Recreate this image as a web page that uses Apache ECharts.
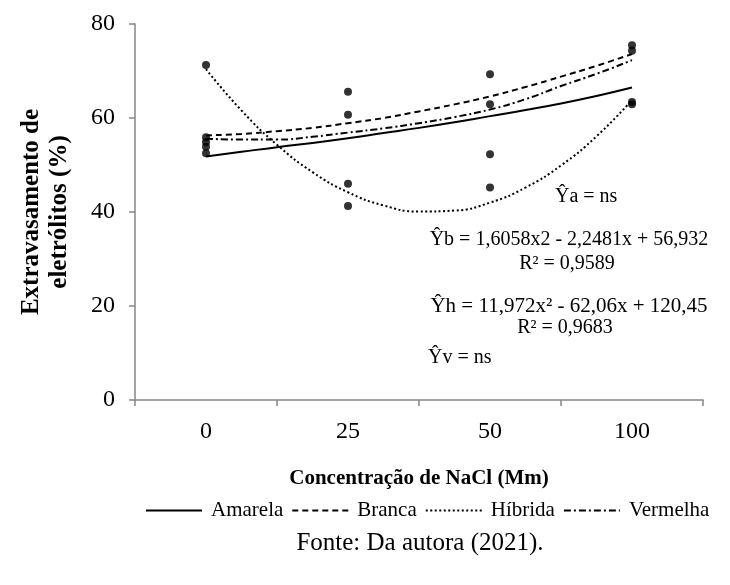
<!DOCTYPE html>
<html><head><meta charset="utf-8">
<script src="https://cdn.jsdelivr.net/npm/echarts@6/dist/echarts.min.js"></script>
<style>html,body{margin:0;padding:0;background:#fff}#c{width:730px;height:585px}</style>
</head><body><div id="c"></div>
<script>
const categories = ['0', '25', '50', '100'];
const yTicks = [0, 20, 40, 60, 80];
// observed points per category
const obs0 = [71.3, 55.9, 54.9, 53.9, 52.5];
const obs25 = [65.6, 60.7, 46.0, 41.3];
const obs50 = [69.3, 62.9, 52.3, 45.2];
const obs100 = [75.5, 74.3, 63.4, 62.9];
// trend line readings at category positions (0 = first category, 3 = last)
const trendPos = [0, 0.25, 0.5, 0.75, 1, 1.25, 1.5, 1.75, 2, 2.25, 2.5, 2.75, 3];
const amarela = [51.8, 52.8, 53.8, 54.7, 55.7, 56.8, 57.9, 59.1, 60.4, 61.7, 63.1, 64.7, 66.5];
const branca = [56.3, 56.6, 57.2, 57.9, 58.9, 60.0, 61.4, 62.9, 64.6, 66.6, 68.8, 71.1, 73.6];
const hibrida = [70.4, 61.6, 54.3, 48.5, 44.2, 41.4, 40.1, 40.3, 42.0, 45.2, 49.9, 56.1, 63.8];
const vermelha = [55.6, 55.4, 55.4, 56.0, 56.9, 57.8, 58.9, 60.2, 61.8, 64.0, 66.8, 69.4, 72.3];
const seriesNames = ['Amarela', 'Branca', 'Híbrida', 'Vermelha'];
const annotations = [
  'Ŷa = ns',
  'Ŷb = 1,6058x2 - 2,2481x + 56,932',
  'R² = 0,9589',
  'Ŷh = 11,972x² - 62,06x + 120,45',
  'R² = 0,9683',
  'Ŷv = ns'
];
const footer = 'Fonte: Da autora (2021).';

const serif = '"Liberation Serif", "Times New Roman", serif';
const obsAll = [obs0, obs25, obs50, obs100];
const scatterData = [];
obsAll.forEach((arr, i) => arr.forEach(v => scatterData.push([categories[i], v])));
const pair = arr => arr.map((v, i) => [trendPos[i], v]);
const styles = [
  {type: 'solid', width: 2},
  {type: [6, 4], width: 2},
  {type: [2, 2.5], width: 2},
  {type: [7, 3, 2, 3], width: 2}
];
const lines = [amarela, branca, hibrida, vermelha];

function txt(s, x, y, align, size) {
  return {type: 'text', x: x, y: y, z: 10,
    style: {text: s, font: size + 'px ' + serif, fill: '#000', align: align, verticalAlign: 'middle'}};
}

const chart = echarts.init(document.getElementById('c'));
chart.setOption({
  animation: false,
  backgroundColor: '#fff',
  grid: {left: 135, right: 27, top: 24, bottom: 185},
  xAxis: [{
    type: 'category', data: categories, boundaryGap: true,
    axisLine: {onZero: false, lineStyle: {color: '#868686', width: 1.5}},
    axisTick: {show: true, length: 6, lineStyle: {color: '#868686', width: 1.5}},
    axisLabel: {color: '#000', fontFamily: serif, fontSize: 24, margin: 20},
    name: 'Concentração de NaCl (Mm)', nameLocation: 'middle', nameGap: 68,
    nameTextStyle: {color: '#000', fontFamily: serif, fontSize: 21, fontWeight: 'bold'}
  }, {
    type: 'value', min: -0.5, max: 3.5, show: false
  }],
  yAxis: {
    type: 'value', min: 0, max: 80, interval: 20,
    axisLine: {show: true, onZero: false, lineStyle: {color: '#868686', width: 1.5}},
    axisTick: {show: true, length: 6, lineStyle: {color: '#868686', width: 1.5}},
    splitLine: {show: false},
    axisLabel: {color: '#000', fontFamily: serif, fontSize: 24, margin: 20,
      formatter: v => yTicks.includes(v) ? String(v) : ''},
    name: 'Extravasamento de\neletrólitos (%)', nameLocation: 'middle', nameGap: 61, nameRotate: 90,
    nameTextStyle: {color: '#000', fontFamily: serif, fontSize: 25, fontWeight: 'bold', lineHeight: 28}
  },
  legend: {
    data: seriesNames, top: 500, left: 145, width: 585, padding: 0,
    itemWidth: 56, itemHeight: 10, itemGap: 8,
    itemStyle: {opacity: 0, color: 'transparent', borderWidth: 0},
    textStyle: {color: '#000', fontFamily: serif, fontSize: 21, padding: [0, 0, 0, 4]}
  },
  graphic: [
    txt(annotations[0], 555, 197, 'left', 20),
    txt(annotations[1], 569, 240, 'center', 20),
    txt(annotations[2], 567, 264, 'center', 20),
    txt(annotations[3], 569, 306, 'center', 21),
    txt(annotations[4], 565, 328, 'center', 20),
    txt(annotations[5], 428, 358, 'left', 20),
    txt(footer, 420, 543, 'center', 25)
  ],
  series: lines.map((arr, i) => ({
    name: seriesNames[i], type: 'line', xAxisIndex: 1, data: pair(arr),
    smooth: true, symbol: 'none', showSymbol: false,
    lineStyle: {color: '#000', type: styles[i].type, width: styles[i].width},
    itemStyle: {color: '#000'}
  })).concat([{
    name: 'obs', type: 'scatter', xAxisIndex: 0, data: scatterData,
    symbol: 'circle', symbolSize: 8, itemStyle: {color: '#000'}, z: 5
  }])
});
</script></body></html>
